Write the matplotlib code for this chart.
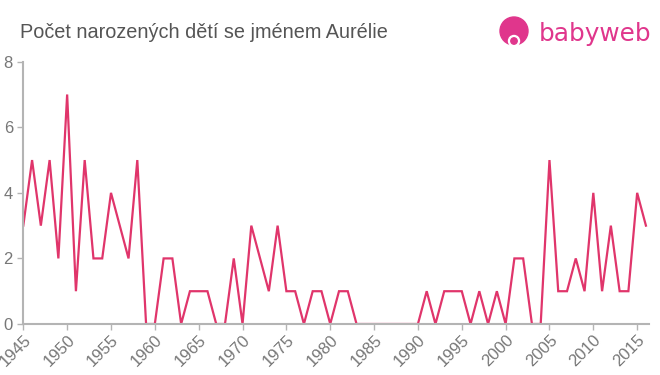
import numpy as np
import matplotlib.pyplot as plt
from matplotlib.patches import Circle

plt.rcParams['font.family'] = ['Liberation Sans', 'DejaVu Sans']

# Data
years = list(range(1945, 2017))
counts = [3, 5, 3, 5, 2, 7, 1, 5, 2, 2,   # 1945-1954
          4, 3, 2, 5, 0, 0, 2, 2, 0, 1,   # 1955-1964
          1, 1, 0, 0, 2, 0, 3, 2, 1, 3,   # 1965-1974
          1, 1, 0, 1, 1, 0, 1, 1, 0, 0,   # 1975-1984
          0, 0, 0, 0, 0, 0, 1, 0, 1, 1,   # 1985-1994
          1, 0, 1, 0, 1, 0, 2, 2, 0, 0,   # 1995-2004
          5, 1, 1, 2, 1, 4, 1, 3, 1, 1,   # 2005-2014
          4, 3]                           # 2015-2016
xticks = list(range(1945, 2016, 5))
yticks = [0, 2, 4, 6, 8]

title = "Počet narozených dětí se jménem Aurélie"
line_color = "#e0356b"
axis_color = "#b4b4b4"
text_color = "#777777"

fig = plt.figure(figsize=(6.6, 3.75), dpi=100, facecolor="white")
ax = fig.add_axes([23.3 / 660, 1 - 324 / 375, (649 - 23.3) / 660, (324 - 61.7) / 375])

ax.plot(years, counts, color=line_color, linewidth=1.6, solid_joinstyle="miter")

ax.set_xlim(1945, 2016.35)
ax.set_ylim(0, 8)
ax.set_xticks(xticks)
ax.set_yticks(yticks)
ax.set_xticklabels([str(x) for x in xticks], rotation=45, ha="right",
                   rotation_mode="anchor")
ax.tick_params(axis="both", colors=axis_color, labelcolor=text_color,
               labelsize=12, length=4, width=1)
ax.tick_params(axis="x", pad=2)
for side in ["top", "right"]:
    ax.spines[side].set_visible(False)
for side in ["left", "bottom"]:
    ax.spines[side].set_color(axis_color)
    ax.spines[side].set_linewidth(1.5)
ax.patch.set_alpha(0)

fig.text(20 / 660, 1 - 32 / 375, title, fontsize=14.3, color="#555555",
         va="center", ha="left")

# logo
logo_color = "#e0368c"
lax = fig.add_axes([0, 0, 1, 1], zorder=-1)
lax.set_xlim(0, 660)
lax.set_ylim(375, 0)
lax.axis("off")
lax.add_patch(Circle((514, 31), 14, color=logo_color))
lax.add_patch(Circle((514, 41), 5.5, color="white"))
lax.add_patch(Circle((514, 41), 3.2, color=logo_color))
lax.text(539, 34, "babyweb", fontsize=17.8, color=logo_color, va="center",
         ha="left", family="DejaVu Sans")

plt.savefig("out.png", dpi=100)
